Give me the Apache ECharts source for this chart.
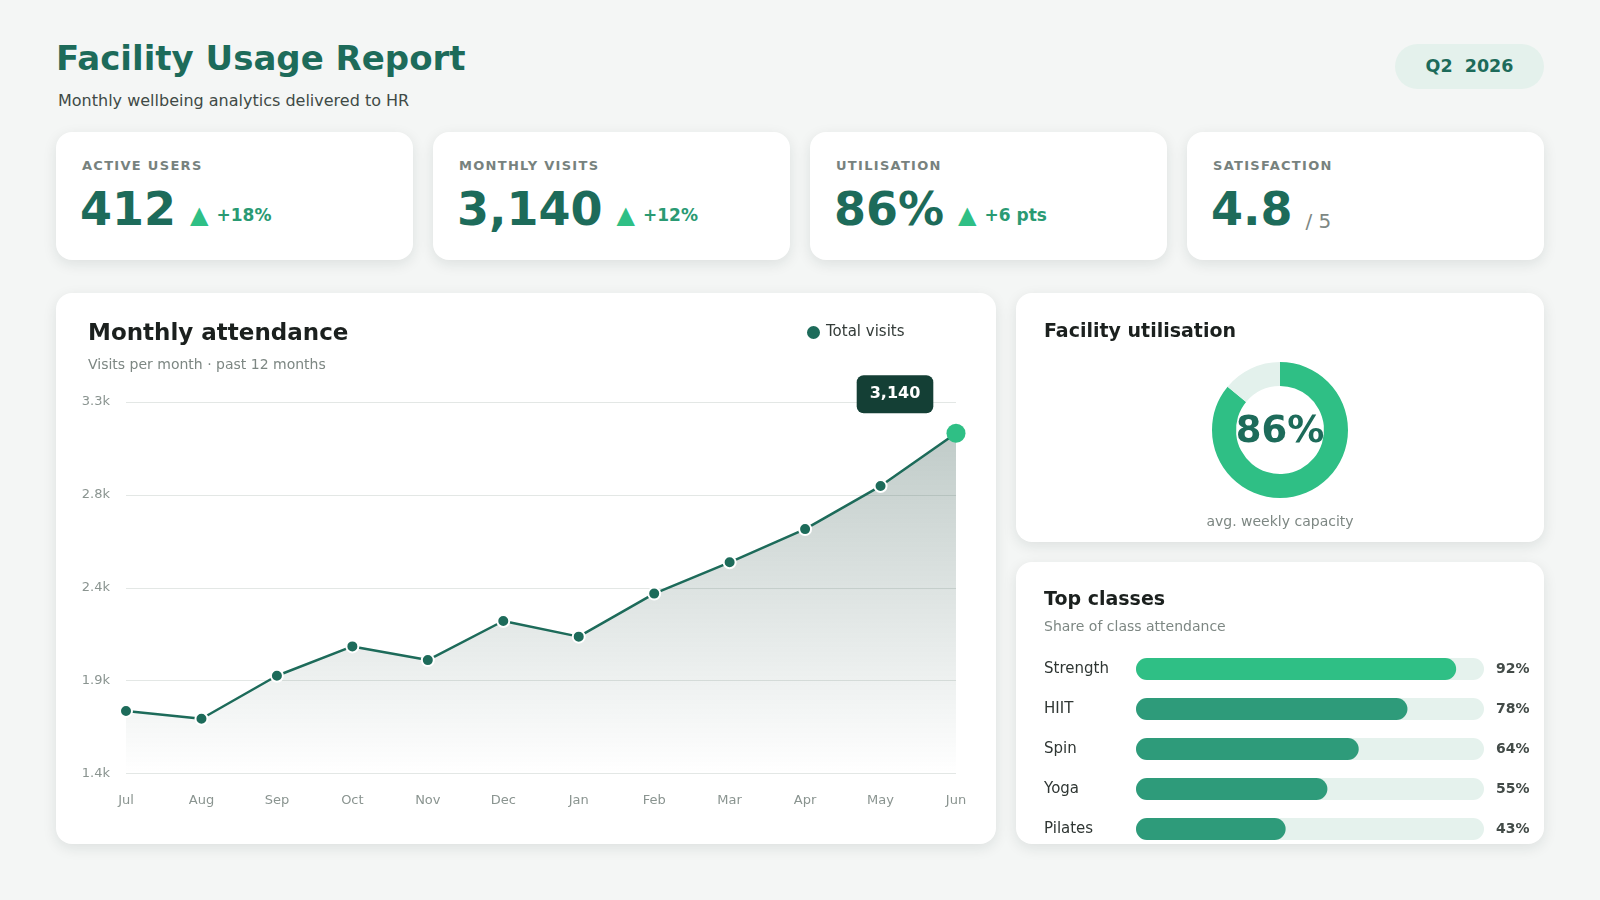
<!DOCTYPE html>
<html>
<head>
<meta charset="utf-8">
<title>Facility Usage Report</title>
<script src="https://cdn.jsdelivr.net/npm/echarts@6/dist/echarts.min.js"></script>
<style>
  html, body { margin: 0; padding: 0; }
  body {
    width: 1600px; height: 900px; position: relative; overflow: hidden;
    background: #f4f6f5;
    font-family: "DejaVu Sans", sans-serif;
  }
  .abs { position: absolute; }
  .card {
    position: absolute; background: #fff; border-radius: 16px;
    box-shadow: 0 4px 14px rgba(20, 40, 35, 0.10);
  }
  #title { left: 56px; top: 38px; font-size: 34px; font-weight: bold; color: #1d6b5a; white-space: nowrap; }
  #sub { left: 58px; top: 91px; font-size: 16px; color: #3f4a46; }
  #pill {
    left: 1395px; top: 44px; width: 149px; height: 45px; border-radius: 23px;
    background: #e4f1ec; color: #1d6b5a; font-weight: bold; font-size: 17.5px;
    line-height: 45px; text-align: center; white-space: pre;
  }
  .kpi .lab { position: absolute; left: 26px; top: 26px; font-size: 13px; font-weight: bold; letter-spacing: 1.3px; color: #77827e; }
  .kpi .val { position: absolute; left: 24px; top: 50px; font-size: 46px; font-weight: bold; color: #1d6b5a; white-space: nowrap; }
  .kpi .up { font-size: 24px; color: #2fbf85; margin-left: 14px; vertical-align: 2px; }
  .kpi .delta { font-size: 17px; color: #2a9a73; margin-left: 8px; vertical-align: 4px; }
  .kpi .of { font-size: 20px; font-weight: normal; color: #7d8783; margin-left: 13px; vertical-align: -3px; }
  .ctitle { position: absolute; font-weight: bold; color: #1b201e; white-space: nowrap; }
  .csub { position: absolute; font-size: 14px; color: #7d8783; white-space: nowrap; }
  .chart { position: absolute; left: 0; top: 0; }
</style>
</head>
<body>
<div id="title" class="abs">Facility Usage Report</div>
<div id="sub" class="abs">Monthly wellbeing analytics delivered to HR</div>
<div id="pill" class="abs">Q2  2026</div>

<div class="card kpi" style="left:56px;top:132px;width:357px;height:128px;">
  <div class="lab">ACTIVE USERS</div>
  <div class="val">412<span class="up">▲</span><span class="delta">+18%</span></div>
</div>
<div class="card kpi" style="left:433px;top:132px;width:357px;height:128px;">
  <div class="lab">MONTHLY VISITS</div>
  <div class="val">3,140<span class="up">▲</span><span class="delta">+12%</span></div>
</div>
<div class="card kpi" style="left:810px;top:132px;width:357px;height:128px;">
  <div class="lab">UTILISATION</div>
  <div class="val">86%<span class="up">▲</span><span class="delta">+6 pts</span></div>
</div>
<div class="card kpi" style="left:1187px;top:132px;width:357px;height:128px;">
  <div class="lab">SATISFACTION</div>
  <div class="val">4.8<span class="of">/ 5</span></div>
</div>

<!-- 月度到访 -->
<div class="card" style="left:56px;top:293px;width:940px;height:551px;">
  <div id="lineChart" class="chart" style="width:940px;height:551px;"></div>
  <div class="ctitle" style="left:32px;top:26px;font-size:23px;">Monthly attendance</div>
  <div class="csub" style="left:32px;top:63px;">Visits per month · past 12 months</div>
</div>

<!-- 利用率 -->
<div class="card" style="left:1016px;top:293px;width:528px;height:249px;">
  <div id="donutChart" class="chart" style="width:528px;height:249px;"></div>
  <div class="ctitle" style="left:28px;top:26px;font-size:19px;">Facility utilisation</div>
  <div class="csub" style="left:0;width:528px;text-align:center;top:220px;">avg. weekly capacity</div>
</div>

<!-- 课程 -->
<div class="card" style="left:1016px;top:562px;width:528px;height:282px;">
  <div id="barChart" class="chart" style="width:528px;height:290px;"></div>
  <div class="ctitle" style="left:28px;top:25px;font-size:19px;">Top classes</div>
  <div class="csub" style="left:28px;top:56px;">Share of class attendance</div>
</div>

<script>
// 数据
const months = ["Jul", "Aug", "Sep", "Oct", "Nov", "Dec", "Jan", "Feb", "Mar", "Apr", "May", "Jun"];
const visits = [1720, 1680, 1900, 2050, 1980, 2180, 2100, 2320, 2480, 2650, 2870, 3140];
const utilisation = 86;
const classNames = ["Strength", "HIIT", "Spin", "Yoga", "Pilates"];
const classShare = [92, 78, 64, 55, 43];

const FONT = "DejaVu Sans";
const DARK = "#1d6b5a";
const LIGHT = "#2fbf85";

// 折线图
const lineObj = echarts.init(document.getElementById("lineChart"));
const lastIdx = visits.length - 1;
lineObj.setOption({
  animation: false,
  textStyle: { fontFamily: FONT },
  legend: {
    data: ["Total visits"],
    left: 744, top: 26,
    icon: "circle", itemWidth: 15, itemHeight: 15, itemGap: 6,
    textStyle: { fontSize: 15, color: "#333b38", fontFamily: FONT }
  },
  grid: { left: 70, right: 40, top: 109, bottom: 70.5 },
  xAxis: {
    type: "category",
    data: months,
    boundaryGap: false,
    axisLine: { show: false },
    axisTick: { show: false },
    axisLabel: { color: "#8a9490", fontSize: 13, margin: 21, fontFamily: FONT }
  },
  yAxis: {
    type: "value",
    min: 1400, max: 3300, interval: 475,
    axisLine: { show: false },
    axisTick: { show: false },
    splitLine: { lineStyle: { color: "#e3e7e5", width: 1 } },
    axisLabel: {
      color: "#8a9490", fontSize: 13, margin: 16, fontFamily: FONT,
      formatter: v => (v / 1000).toFixed(1) + "k"
    }
  },
  series: [{
    name: "Total visits",
    type: "line",
    color: DARK,
    symbol: "circle",
    symbolSize: 12,
    lineStyle: { color: DARK, width: 2.5 },
    itemStyle: { color: DARK, borderColor: "#fff", borderWidth: 2 },
    areaStyle: {
      color: new echarts.graphic.LinearGradient(0, 0, 0, 1, [
        { offset: 0, color: "rgba(30, 70, 60, 0.40)" },
        { offset: 1, color: "rgba(30, 70, 60, 0)" }
      ])
    },
    data: visits.map((v, i) => i === lastIdx ? {
      value: v,
      symbolSize: 19,
      itemStyle: { color: LIGHT, borderWidth: 0 },
      label: {
        show: true,
        position: "inside",
        offset: [-61, -39],
        formatter: p => p.value.toLocaleString("en-US"),
        backgroundColor: "#143f35",
        borderRadius: 7,
        padding: [11, 13],
        color: "#fff",
        fontSize: 16,
        fontWeight: "bold",
        fontFamily: FONT
      }
    } : v)
  }]
});

// 环形图
const donutObj = echarts.init(document.getElementById("donutChart"));
donutObj.setOption({
  animation: false,
  series: [{
    type: "pie",
    center: [264, 137],
    radius: [44, 68],
    startAngle: 90,
    clockwise: true,
    silent: true,
    label: { show: false },
    labelLine: { show: false },
    data: [
      {
        value: utilisation,
        itemStyle: { color: LIGHT },
        label: {
          show: true, position: "center", formatter: "{c}%", offset: [0, 2],
          color: DARK, fontSize: 37, fontWeight: "bold", fontFamily: FONT
        }
      },
      { value: 100 - utilisation, itemStyle: { color: "#e3f1ec" } }
    ]
  }]
});

// 条形图
const barObj = echarts.init(document.getElementById("barChart"));
barObj.setOption({
  animation: false,
  grid: { left: 120, width: 348, top: 87, height: 200 },
  xAxis: { type: "value", min: 0, max: 100, show: false },
  yAxis: {
    type: "category",
    data: classNames,
    inverse: true,
    axisLine: { show: false },
    axisTick: { show: false },
    axisLabel: { color: "#2f3633", fontSize: 15, align: "left", margin: 92, fontFamily: FONT }
  },
  series: [
    {
      type: "bar",
      data: classNames.map(() => 100),
      barWidth: 22,
      silent: true,
      itemStyle: { color: "#e5f2ed", borderRadius: 11 },
      label: {
        show: true, position: "right", distance: 12,
        formatter: p => classShare[p.dataIndex] + "%",
        color: "#434b48", fontSize: 14, fontWeight: "bold", fontFamily: FONT
      },
      z: 1
    },
    {
      type: "bar",
      data: classShare.map((v, i) => ({ value: v, itemStyle: { color: i === 0 ? LIGHT : "#2e9b7a" } })),
      barWidth: 22,
      barGap: "-100%",
      itemStyle: { borderRadius: 11 },
      z: 2
    }
  ]
});

window.addEventListener("resize", () => {
  lineObj.resize(); donutObj.resize(); barObj.resize();
});
</script>
</body>
</html>
